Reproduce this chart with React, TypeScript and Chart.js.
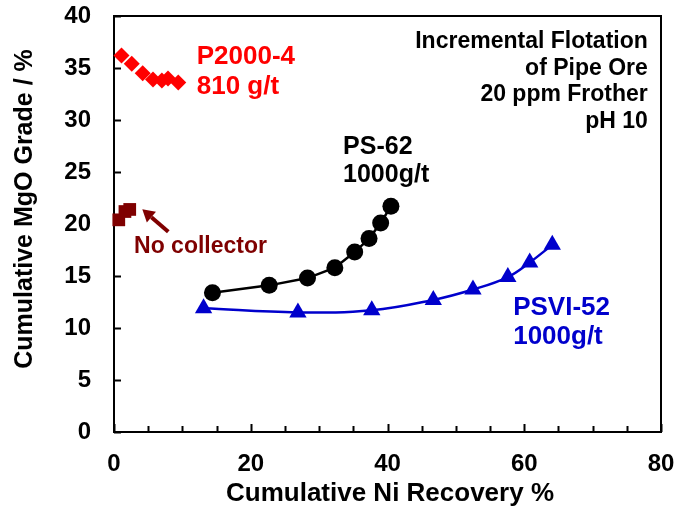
import React, { useEffect, useRef } from 'react';
import { Chart, registerables } from 'chart.js';

Chart.register(...registerables);

// Cumulative Ni recovery (%) and cumulative MgO grade (%) per collector
const p2000Recovery = [1.1, 2.6, 4.2, 5.7, 7.0, 7.9, 9.4];
const p2000Grade = [36.2, 35.4, 34.5, 33.9, 33.8, 34.0, 33.6];

const noCollectorRecovery = [0.7, 1.6, 2.3];
const noCollectorGrade = [20.4, 21.2, 21.4];

const ps62Recovery = [14.4, 22.7, 28.3, 32.3, 35.2, 37.3, 39.0, 40.5];
const ps62Grade = [13.4, 14.1, 14.8, 15.8, 17.3, 18.6, 20.1, 21.7];

const psvi52Recovery = [13.1, 26.9, 37.7, 46.7, 52.5, 57.6, 60.8, 64.1];
const psvi52Grade = [11.9, 11.5, 11.7, 12.7, 13.7, 14.9, 16.3, 18.0];

const xLabelledTicks = [0, 20, 40, 60, 80];
const yTickLabels = ['0', '5', '10', '15', '20', '25', '30', '35', '40'];

const FONT = '"Liberation Sans", Arial, sans-serif';
const RED = '#FF0000';
const DARK_RED = '#7F0000';
const BLUE = '#0000CC';

const pts = (xs: number[], ys: number[]) => xs.map((x, i) => ({ x, y: ys[i] }));

// Text notes placed in data units
const notes = [
  { lines: ['P2000-4', '810 g/t'], x: 12.1, y: 36.06, dy: 2.88, size: 26, color: RED, align: 'left' },
  { lines: ['Incremental Flotation', 'of Pipe Ore', '20 ppm Frother', 'pH 10'], x: 78.07, y: 37.53, dy: 2.56, size: 23, color: '#000', align: 'right' },
  { lines: ['PS-62', '1000g/t'], x: 33.5, y: 27.43, dy: 2.72, size: 25, color: '#000', align: 'left' },
  { lines: ['PSVI-52', '1000g/t'], x: 58.38, y: 11.92, dy: 2.79, size: 26, color: BLUE, align: 'left' },
  { lines: ['No collector'], x: 12.65, y: 17.82, dy: 0, size: 23, color: DARK_RED, align: 'center' },
];

const arrowTail = { x: 7.94, y: 19.26 };
const arrowTip = { x: 4.14, y: 21.41 };

const framePlugin = {
  id: 'frameAndTicks',
  beforeDatasetsDraw(chart: any) {
    const { ctx, chartArea: a, scales } = chart;
    ctx.save();
    ctx.strokeStyle = '#000';
    ctx.lineWidth = 2;
    ctx.strokeRect(a.left, a.top, a.right - a.left, a.bottom - a.top);
    ctx.beginPath();
    for (const t of scales.x.ticks) {
      const px = Math.round(scales.x.getPixelForValue(t.value)) + 0.5;
      const len = t.value % 20 === 0 ? 8 : 6;
      ctx.moveTo(px, a.bottom);
      ctx.lineTo(px, a.bottom - len);
    }
    for (const t of scales.y.ticks) {
      const py = Math.round(scales.y.getPixelForValue(t.value)) + 0.5;
      ctx.moveTo(a.left, py);
      ctx.lineTo(a.left + 7, py);
    }
    ctx.stroke();
    ctx.restore();
  },
  afterDraw(chart: any) {
    const { ctx, scales } = chart;
    const X = (v: number) => scales.x.getPixelForValue(v);
    const Y = (v: number) => scales.y.getPixelForValue(v);
    ctx.save();
    ctx.textBaseline = 'middle';
    for (const n of notes) {
      ctx.font = `bold ${n.size}px ${FONT}`;
      ctx.fillStyle = n.color;
      ctx.textAlign = n.align as CanvasTextAlign;
      n.lines.forEach((s, i) => ctx.fillText(s, X(n.x), Y(n.y - i * n.dy)));
    }
    // arrow pointing at the no-collector points
    const tx = X(arrowTip.x), ty = Y(arrowTip.y);
    const sx = X(arrowTail.x), sy = Y(arrowTail.y);
    const ang = Math.atan2(ty - sy, tx - sx);
    const head = 12, half = 7;
    const bx = tx - head * Math.cos(ang), by = ty - head * Math.sin(ang);
    ctx.strokeStyle = DARK_RED;
    ctx.fillStyle = DARK_RED;
    ctx.lineWidth = 4;
    ctx.beginPath();
    ctx.moveTo(sx, sy);
    ctx.lineTo(bx, by);
    ctx.stroke();
    ctx.beginPath();
    ctx.moveTo(tx, ty);
    ctx.lineTo(bx + half * Math.sin(ang), by - half * Math.cos(ang));
    ctx.lineTo(bx - half * Math.sin(ang), by + half * Math.cos(ang));
    ctx.closePath();
    ctx.fill();

    // axis titles
    ctx.fillStyle = '#000';
    ctx.textAlign = 'center';
    ctx.font = `bold 26px ${FONT}`;
    ctx.fillText('Cumulative Ni Recovery %', 390, 494);
    ctx.translate(25, 209);
    ctx.rotate(-Math.PI / 2);
    ctx.font = `bold 25px ${FONT}`;
    ctx.fillText('Cumulative MgO Grade / %', 0, 0);
    ctx.restore();
  },
};

export default function App() {
  const ref = useRef<HTMLCanvasElement>(null);

  useEffect(() => {
    document.body.style.margin = '0';
    const canvas = ref.current;
    if (!canvas) return;
    const chart = new Chart(canvas, {
      type: 'scatter',
      data: {
        datasets: [
          {
            label: 'P2000-4 810 g/t',
            data: pts(p2000Recovery, p2000Grade),
            pointStyle: 'rectRot',
            pointRadius: 8,
            pointBorderWidth: 0,
            backgroundColor: RED,
            borderColor: RED,
            showLine: false,
            clip: false as any,
          },
          {
            label: 'No collector',
            data: pts(noCollectorRecovery, noCollectorGrade),
            pointStyle: 'rect',
            pointRadius: 9,
            pointBorderWidth: 0,
            backgroundColor: DARK_RED,
            borderColor: DARK_RED,
            showLine: false,
            clip: false as any,
          },
          {
            label: 'PS-62 1000g/t',
            data: pts(ps62Recovery, ps62Grade),
            pointStyle: 'circle',
            pointRadius: 8.5,
            pointBorderWidth: 0,
            backgroundColor: '#000',
            borderColor: '#000',
            borderWidth: 2.5,
            showLine: true,
            tension: 0,
            clip: false as any,
          },
          {
            label: 'PSVI-52 1000g/t',
            data: pts(psvi52Recovery, psvi52Grade),
            pointStyle: 'triangle',
            pointRadius: 10,
            pointBorderWidth: 0,
            backgroundColor: BLUE,
            borderColor: BLUE,
            borderWidth: 2.5,
            showLine: true,
            tension: 0.4,
            clip: false as any,
          },
        ],
      },
      options: {
        responsive: false,
        animation: false,
        layout: { padding: { top: 16, right: 19, left: 0, bottom: 0 } },
        plugins: { legend: { display: false }, tooltip: { enabled: false } },
        scales: {
          x: {
            type: 'linear',
            min: 0,
            max: 80,
            grid: { display: false, drawTicks: false },
            border: { display: false },
            afterFit: (s: any) => {
              s.height = 80;
              s.paddingLeft = 0;
              s.paddingRight = 0;
            },
            ticks: {
              stepSize: 5,
              autoSkip: false,
              maxRotation: 0,
              padding: 18,
              color: '#000',
              font: { family: FONT, size: 24, weight: 'bold' },
              callback: (v: any) => (xLabelledTicks.includes(Number(v)) ? String(v) : ''),
            },
          },
          y: {
            type: 'linear',
            min: 0,
            max: 40,
            grid: { display: false, drawTicks: false },
            border: { display: false },
            afterFit: (s: any) => {
              s.width = 114;
              s.paddingTop = 0;
              s.paddingBottom = 0;
            },
            ticks: {
              stepSize: 5,
              padding: 23,
              color: '#000',
              font: { family: FONT, size: 24, weight: 'bold' },
              callback: (v: any) => yTickLabels[Math.round(Number(v) / 5)] ?? '',
            },
          },
        },
      },
      plugins: [framePlugin],
    });
    return () => chart.destroy();
  }, []);

  return <canvas ref={ref} width={680} height={512} style={{ display: 'block' }} />;
}
